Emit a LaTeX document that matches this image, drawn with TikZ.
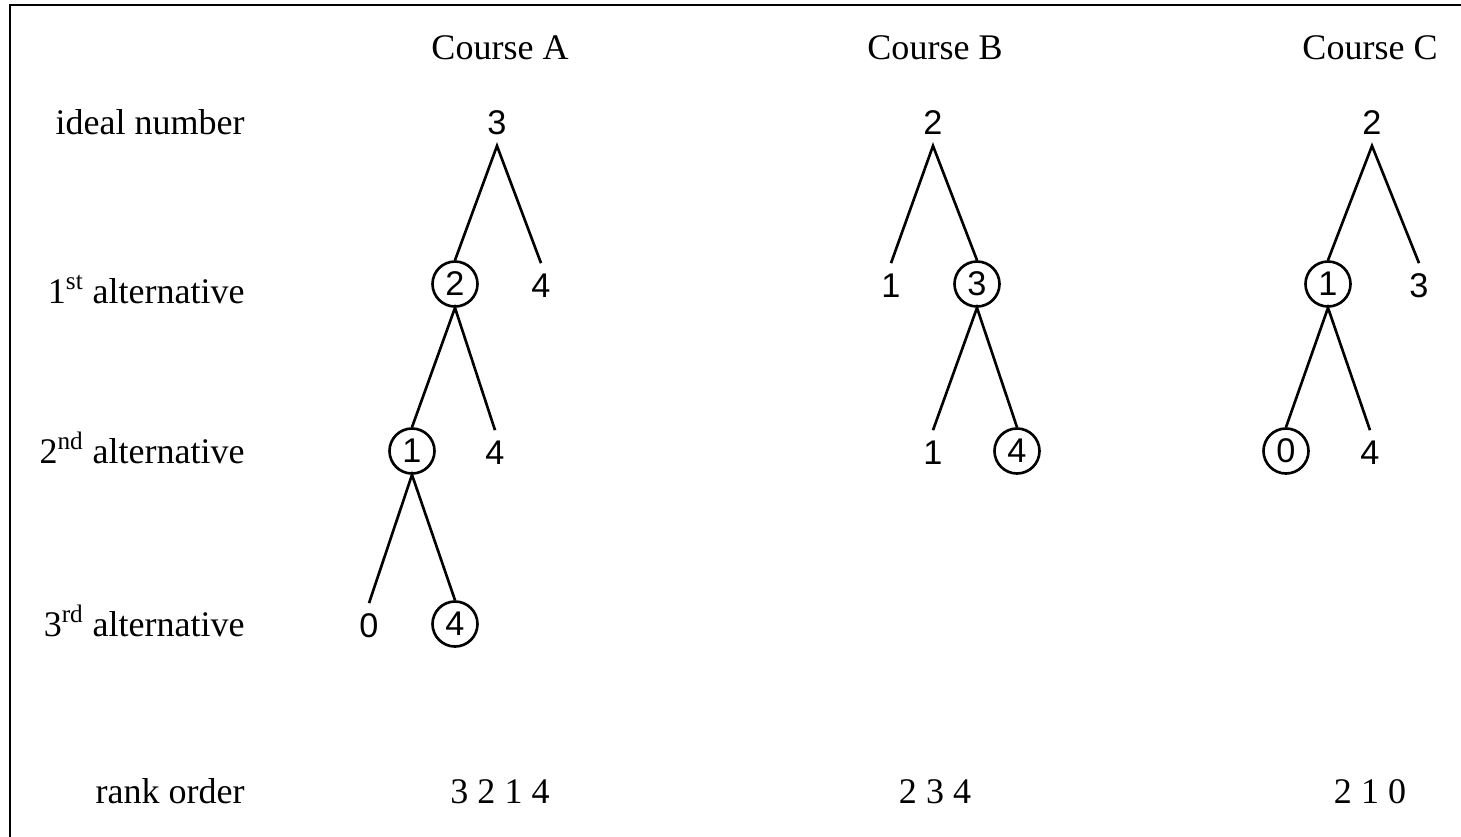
\documentclass[tikz,border=0pt]{standalone}
\usepackage{fontspec}
\setmainfont{Liberation Serif}
\newfontfamily\digitfont{Liberation Sans}
\usepackage{tikz}
\usetikzlibrary{positioning}

\begin{document}
\begin{tikzpicture}[x=0.02cm, y=-0.02cm,
				rowlabel/.style={anchor=base east, inner sep=0pt, font=\fontsize{20.5}{24}\selectfont},
				course/.style={anchor=base, inner sep=0pt, font=\fontsize{20.5}{24}\selectfont},
				num/.style={circle, minimum size=0.9cm, inner sep=0pt, font=\fontsize{19.5}{23}\digitfont},
				pick/.style={num, draw, line width=1.5pt},
				branch/.style={line width=1.5pt}]
				\useasboundingbox (0, 0) rectangle (1461, 836);
				\begin{scope}
					\clip (0, 0) rectangle (1461, 836);
					\draw[line width=1.2pt] (10, 5) rectangle (1490, 860);
				\end{scope}

				% row labels
				\node[rowlabel](ideal) at (245, 134) {ideal number};
				\node[rowlabel](alt1) at (245, 303) {1\textsuperscript{st} alternative};
				\node[rowlabel](alt2) at (245, 463) {2\textsuperscript{nd} alternative};
				\node[rowlabel](alt3) at (245, 636) {3\textsuperscript{rd} alternative};
				\node[rowlabel](rank) at (245, 803) {rank order};

				% course A
				\node[course](courseA) at (500, 59) {Course A};
				\node[num](nodeA) at (497, 123) {3};
				\node[pick](nodeA1) at (455, 284) {2};
				\node[num](nodeA2) at (541, 286) {4};
				\node[pick](nodeA11) at (412, 451) {1};
				\node[num](nodeA12) at (495, 453) {4};
				\node[num](nodeA111) at (369, 626) {0};
				\node[pick](nodeA112) at (455, 624) {4};
				\node[course](rankA) at (500, 803) {3 2 1 4};

				\draw[branch] (nodeA1.north) -- (nodeA.south) -- (nodeA2.north);
				\draw[branch] (nodeA11.north) -- (nodeA1.south) -- (nodeA12.north);
				\draw[branch] (nodeA111.north) -- (nodeA11.south) -- (nodeA112.north);

				% course B
				\node[course](courseB) at (935, 59) {Course B};
				\node[num](nodeB) at (933, 123) {2};
				\node[num](nodeB1) at (891, 286) {1};
				\node[pick](nodeB2) at (977, 284) {3};
				\node[num](nodeB21) at (933, 453) {1};
				\node[pick](nodeB22) at (1017, 451) {4};
				\node[course](rankB) at (935, 803) {2 3 4};

				\draw[branch] (nodeB1.north) -- (nodeB.south) -- (nodeB2.north);
				\draw[branch] (nodeB21.north) -- (nodeB2.south) -- (nodeB22.north);

				% course C
				\node[course](courseC) at (1370, 59) {Course C};
				\node[num](nodeC) at (1372, 123) {2};
				\node[pick](nodeC1) at (1328, 284) {1};
				\node[num](nodeC2) at (1419, 286) {3};
				\node[pick](nodeC11) at (1286, 451) {0};
				\node[num](nodeC12) at (1370, 453) {4};
				\node[course](rankC) at (1370, 803) {2 1 0};

				\draw[branch] (nodeC1.north) -- (nodeC.south) -- (nodeC2.north);
				\draw[branch] (nodeC11.north) -- (nodeC1.south) -- (nodeC12.north);
			\end{tikzpicture}
\end{document}
